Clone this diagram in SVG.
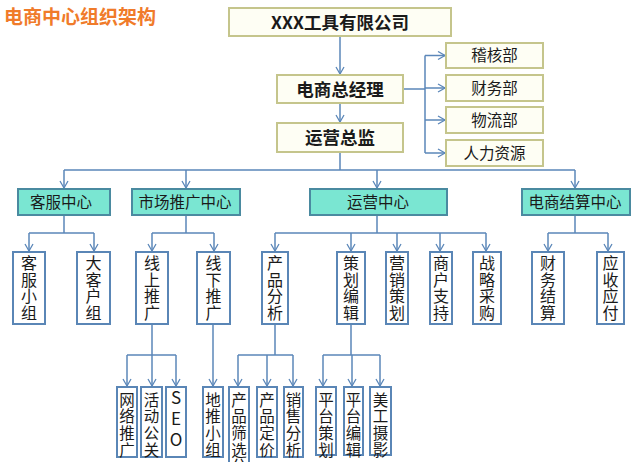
<svg xmlns="http://www.w3.org/2000/svg" width="640" height="462" viewBox="0 0 640 462">
<defs>
<marker id="arr" markerWidth="10" markerHeight="10" refX="8" refY="5" orient="auto" markerUnits="userSpaceOnUse">
<path d="M1,1 L8,5 L1,9" fill="none" stroke="#5b87b9" stroke-width="1.3"/>
</marker>
<style>
text{font-family:"Noto Sans CJK SC","Noto Sans",sans-serif;fill:#1a1a1a;}
.top{fill:#fefef4;stroke:#c5c58c;stroke-width:2;}
.l2{fill:#7ae6d2;stroke:#4a8aa0;stroke-width:2;}
.v{fill:#ffffff;stroke:#5a86b6;stroke-width:2;}
.c{fill:none;stroke:#5b87b9;stroke-width:1.5;}
.a{marker-end:url(#arr);}
.tb{font-size:17.5px;font-weight:bold;text-anchor:middle;}
.tr{font-size:15.5px;text-anchor:middle;}
.t2{font-size:15.5px;text-anchor:middle;}
.tv{font-size:16px;writing-mode:vertical-rl;text-orientation:upright;letter-spacing:0.5px;}
.tw{font-size:15.5px;writing-mode:vertical-rl;text-orientation:upright;letter-spacing:1.2px;}
.ts{font-size:17px;writing-mode:vertical-rl;text-orientation:upright;letter-spacing:4px;}
</style>
</defs>
<rect width="640" height="462" fill="#ffffff"/>
<text x="4" y="24" style="font-size:19px;font-weight:bold;fill:#f07b2a;">电商中心组织架构</text>

<g id="connectors">
<path class="c a" d="M340,36 V74"/>
<path class="c a" d="M340,103 V122"/>
<path class="c" d="M403,89 H425 M425,55.5 V153"/>
<path class="c a" d="M425,55.5 H445"/>
<path class="c a" d="M425,88 H445"/>
<path class="c a" d="M425,120 H445"/>
<path class="c a" d="M425,153 H445"/>
<path class="c" d="M340,152 V170 M64,170 H575"/>
<path class="c a" d="M64,170 V188"/>
<path class="c a" d="M186,170 V188"/>
<path class="c a" d="M377,170 V188"/>
<path class="c a" d="M575,170 V188"/>
<path class="c" d="M64,215 V233 M29,233 H94"/>
<path class="c a" d="M29,233 V251"/>
<path class="c a" d="M94,233 V251"/>
<path class="c" d="M186,215 V233 M152,233 H214"/>
<path class="c a" d="M152,233 V251"/>
<path class="c a" d="M214,233 V251"/>
<path class="c" d="M377,215 V233 M275,233 H486"/>
<path class="c a" d="M275,233 V251"/>
<path class="c a" d="M351,233 V251"/>
<path class="c a" d="M397,233 V251"/>
<path class="c a" d="M440,233 V251"/>
<path class="c a" d="M486,233 V251"/>
<path class="c" d="M575,215 V233 M548,233 H608"/>
<path class="c a" d="M548,233 V251"/>
<path class="c a" d="M608,233 V251"/>
<path class="c" d="M152,324 V355 M127,355 H176"/>
<path class="c a" d="M127,355 V386"/>
<path class="c a" d="M152,355 V386"/>
<path class="c a" d="M176,355 V386"/>
<path class="c a" d="M213,324 V386"/>
<path class="c" d="M275,324 V355 M238,355 H293"/>
<path class="c a" d="M238,355 V386"/>
<path class="c a" d="M267,355 V386"/>
<path class="c a" d="M293,355 V386"/>
<path class="c" d="M351,324 V355 M323,355 H380"/>
<path class="c a" d="M323,355 V386"/>
<path class="c a" d="M352,355 V386"/>
<path class="c a" d="M380,355 V386"/>
</g>

<g id="company"><rect class="top" x="229" y="8" width="222" height="28"/><text class="tb" x="340" y="28.5">XXX工具有限公司</text></g>
<g id="gm"><rect class="top" x="277" y="75" width="126" height="28"/><text class="tb" x="340" y="95.5">电商总经理</text></g>
<g id="ops-director"><rect class="top" x="277" y="123" width="126" height="29"/><text class="tb" x="340" y="144">运营总监</text></g>
<g id="audit"><rect class="top" x="446" y="43" width="97" height="25"/><text class="tr" x="494.5" y="61">稽核部</text></g>
<g id="finance"><rect class="top" x="446" y="75" width="97" height="26"/><text class="tr" x="494.5" y="93.5">财务部</text></g>
<g id="logistics"><rect class="top" x="446" y="107" width="97" height="26"/><text class="tr" x="494.5" y="125.5">物流部</text></g>
<g id="hr"><rect class="top" x="446" y="140" width="97" height="26"/><text class="tr" x="494.5" y="158.5">人力资源</text></g>

<g id="cs-center"><rect class="l2" x="18" y="189" width="92" height="26"/><text class="t2" x="61" y="207.5">客服中心</text></g>
<g id="mkt-center"><rect class="l2" x="132" y="189" width="108" height="26"/><text class="t2" x="185" y="207.5">市场推广中心</text></g>
<g id="ops-center"><rect class="l2" x="310" y="189" width="137" height="26"/><text class="t2" x="378" y="207.5">运营中心</text></g>
<g id="settle-center"><rect class="l2" x="522" y="189" width="108" height="26"/><text class="t2" x="575" y="207.5">电商结算中心</text></g>

<g id="cs-group"><rect class="v" x="13" y="252" width="32" height="72"/><text class="tv" x="29" y="255">客服小组</text></g>
<g id="key-account"><rect class="v" x="77" y="252" width="33" height="72"/><text class="tv" x="93.5" y="255">大客户组</text></g>
<g id="online"><rect class="v" x="136" y="252" width="32" height="72"/><text class="tv" x="152" y="255">线上推广</text></g>
<g id="offline"><rect class="v" x="197" y="252" width="33" height="72"/><text class="tv" x="213.5" y="255">线下推广</text></g>
<g id="product-analysis"><rect class="v" x="262" y="252" width="26" height="72"/><text class="tv" x="275" y="255">产品分析</text></g>
<g id="planning-edit"><rect class="v" x="337" y="252" width="28" height="72"/><text class="tv" x="351" y="255">策划编辑</text></g>
<g id="marketing-plan"><rect class="v" x="386" y="252" width="22" height="72"/><text class="tv" x="397" y="255">营销策划</text></g>
<g id="merchant-support"><rect class="v" x="430" y="252" width="22" height="72"/><text class="tv" x="441" y="255">商户支持</text></g>
<g id="strategic-purchase"><rect class="v" x="473" y="252" width="28" height="72"/><text class="tv" x="487" y="255">战略采购</text></g>
<g id="fin-settle"><rect class="v" x="532" y="252" width="32" height="72"/><text class="tv" x="548" y="255">财务结算</text></g>
<g id="receivable"><rect class="v" x="597" y="252" width="27" height="72"/><text class="tv" x="610.5" y="255">应收应付</text></g>

<g id="net-promo"><rect class="v" x="117" y="387" width="20" height="70"/><text class="tw" x="127" y="392">网络推广</text></g>
<g id="pr"><rect class="v" x="141" y="387" width="21" height="70"/><text class="tw" x="151.5" y="392">活动公关</text></g>
<g id="seo"><rect class="v" x="166" y="387" width="20" height="70"/><text class="ts" x="176" y="389">SEO</text></g>
<g id="ground"><rect class="v" x="203" y="387" width="20" height="70"/><text class="tw" x="213" y="392">地推小组</text></g>
<g id="product-screen"><rect class="v" x="229" y="387" width="20" height="85"/><text class="tw" x="239" y="392">产品筛选分</text></g>
<g id="pricing"><rect class="v" x="257" y="387" width="20" height="70"/><text class="tw" x="267" y="392">产品定价</text></g>
<g id="sales-analysis"><rect class="v" x="284" y="387" width="19" height="70"/><text class="tw" x="293.5" y="392">销售分析</text></g>
<g id="platform-plan"><rect class="v" x="316" y="387" width="20" height="68"/><text class="tw" x="326" y="392">平台策划</text></g>
<g id="platform-edit"><rect class="v" x="344" y="387" width="19" height="68"/><text class="tw" x="353.5" y="392">平台编辑</text></g>
<g id="art-photo"><rect class="v" x="370" y="387" width="21" height="68"/><text class="tw" x="380.5" y="392">美工摄影</text></g>
</svg>
